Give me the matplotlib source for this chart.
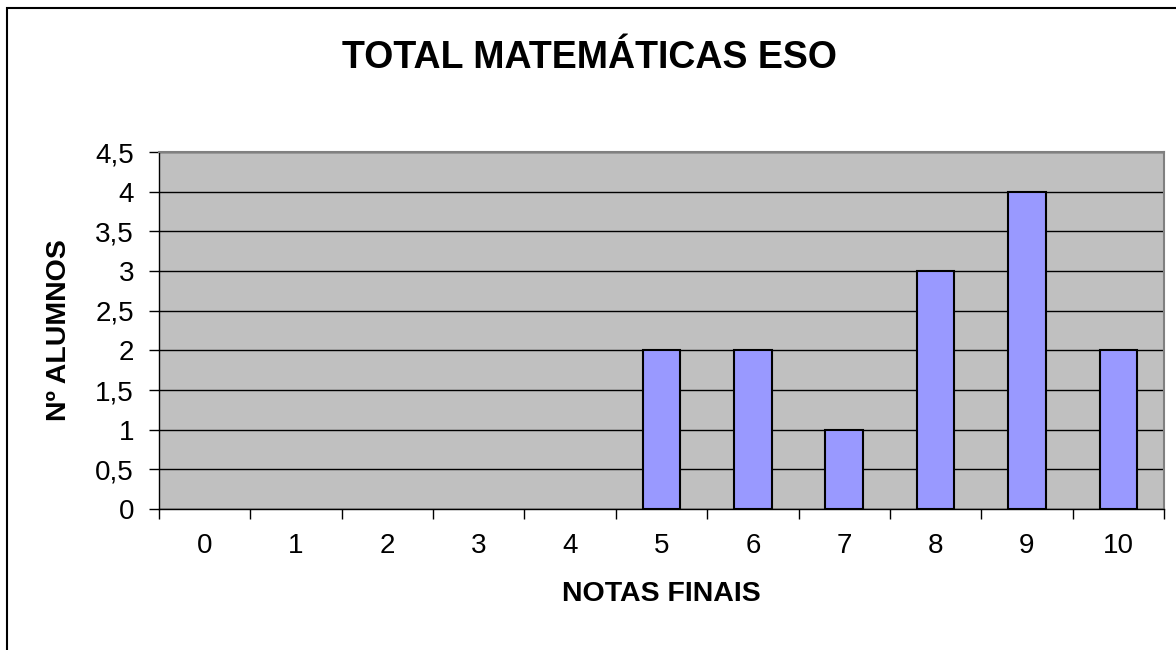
import numpy as np
import matplotlib
matplotlib.use('Agg')
import matplotlib.pyplot as plt
from matplotlib.patches import Rectangle

plt.rcParams['font.family'] = ['Liberation Sans', 'DejaVu Sans']

notas = ['0', '1', '2', '3', '4', '5', '6', '7', '8', '9', '10']
alumnos = [0, 0, 0, 0, 0, 2, 2, 1, 3, 4, 2]
yticks = [0, 0.5, 1, 1.5, 2, 2.5, 3, 3.5, 4, 4.5]
ytick_labels = ['0', '0,5', '1', '1,5', '2', '2,5', '3', '3,5', '4', '4,5']

fig = plt.figure(figsize=(11.76, 6.5), dpi=100)
# marco del grafico
fig.patches.append(Rectangle((7 / 1176, -0.01), 1.1, 1 - 8 / 650 + 0.01,
                             transform=fig.transFigure, fill=False,
                             edgecolor='black', linewidth=1.5))

ax = fig.add_axes([159 / 1176, 1 - 509 / 650, (1164 - 159) / 1176, (509 - 152) / 650])
ax.set_facecolor('#C0C0C0')

x = np.arange(len(notas))
lw = [1.5 if v > 0 else 0 for v in alumnos]
ax.bar(x, alumnos, width=0.41, color='#9999FF', edgecolor='black', linewidth=lw, zorder=3)

ax.set_xlim(-0.5, len(notas) - 0.5)
ax.set_ylim(0, 4.5)
ax.set_yticks(yticks)
ax.set_yticklabels(ytick_labels)
ax.yaxis.grid(True, color='black', linewidth=1, zorder=1)
ax.set_axisbelow(True)

# ticks entre categorias
ax.set_xticks(x)
ax.set_xticklabels(notas)
ax.set_xticks(np.arange(-0.5, len(notas), 1), minor=True)
ax.tick_params(axis='x', which='major', length=0, pad=17, labelsize=20)
ax.tick_params(axis='x', which='minor', length=7, width=1, direction='out')
ax.tick_params(axis='y', length=7, width=1, direction='out', pad=11, labelsize=20)

for s in ['top', 'right']:
    ax.spines[s].set_color('#808080')
    ax.spines[s].set_linewidth(1.5)
for s in ['left', 'bottom']:
    ax.spines[s].set_color('black')
    ax.spines[s].set_linewidth(1)

fig.text(589 / 1176, 1 - 58 / 650, 'TOTAL MATEMÁTICAS ESO', ha='center', va='center',
         fontsize=27, fontweight='bold')
ax.set_xlabel('NOTAS FINAIS', fontsize=20.5, fontweight='bold', labelpad=16)
ax.set_ylabel('Nº ALUMNOS', fontsize=20.5, fontweight='bold', labelpad=17)

fig.savefig('out.png', dpi=100)
